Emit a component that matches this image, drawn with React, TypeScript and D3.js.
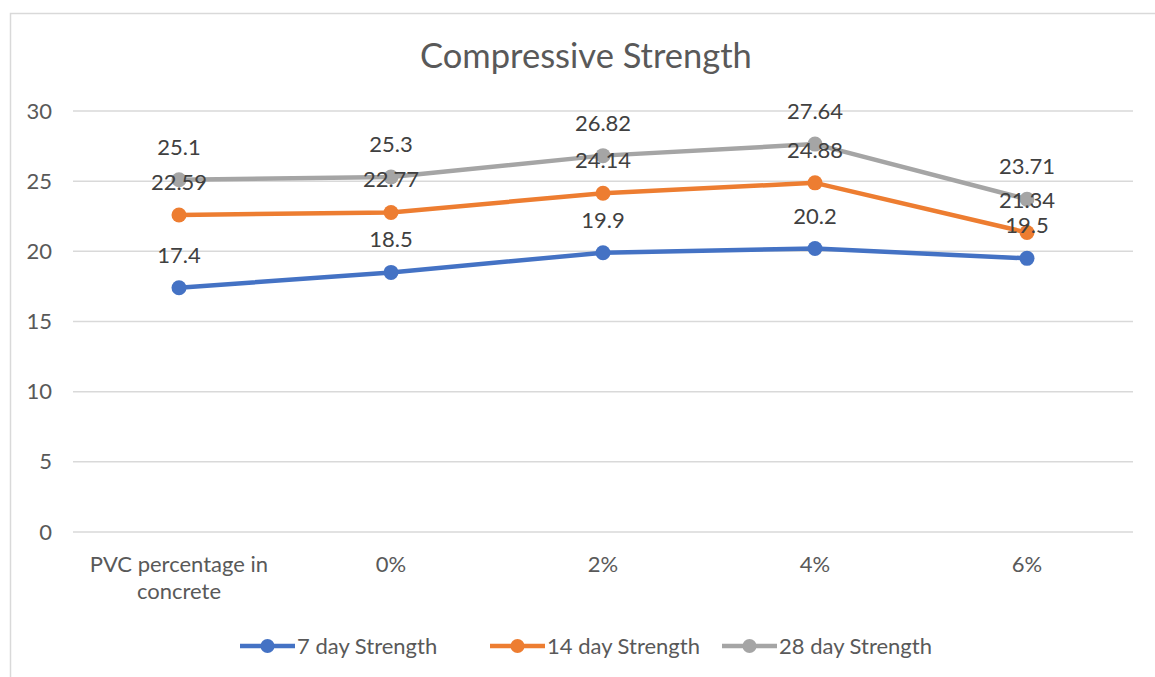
import React, { useEffect, useRef } from 'react';
import * as d3 from 'd3';

// chart data
const categories = ['PVC percentage in concrete', '0%', '2%', '4%', '6%'];
const day7 = [17.4, 18.5, 19.9, 20.2, 19.5];
const day14 = [22.59, 22.77, 24.14, 24.88, 21.34];
const day28 = [25.1, 25.3, 26.82, 27.64, 23.71];
const seriesNames = ['7 day Strength', '14 day Strength', '28 day Strength'];
const yTicks = [0, 5, 10, 15, 20, 25, 30];

const App = () => {
    const ref = useRef<SVGSVGElement>(null);

    useEffect(() => {
        const width = 1155;
        const height = 677;
        const font = 'Lato, "Open Sans", sans-serif';
        const svg = d3.select(ref.current)
            .attr('width', width)
            .attr('height', height);
        svg.selectAll('*').remove();

        // chart frame (left + top edges visible)
        svg.append('path')
            .attr('d', 'M10.5,677 L10.5,13.5 L1155,13.5')
            .attr('fill', 'none')
            .attr('stroke', '#d9d9d9')
            .attr('stroke-width', 1.5);

        svg.append('text')
            .text('Compressive Strength')
            .attr('x', 586)
            .attr('y', 68)
            .attr('text-anchor', 'middle')
            .attr('font-family', font)
            .attr('font-size', 34.5)
            .attr('fill', '#595959');

        const xScale = d3.scaleBand()
            .domain(categories)
            .range([73, 1133]);
        const yScale = d3.scaleLinear()
            .domain([0, 30])
            .range([532, 111]);
        const cx = (c: string) => xScale(c)! + xScale.bandwidth() / 2;

        // gridlines
        svg.append('g')
            .selectAll('line')
            .data(yTicks)
            .enter()
            .append('line')
            .attr('x1', 73)
            .attr('x2', 1133)
            .attr('y1', d => yScale(d))
            .attr('y2', d => yScale(d))
            .attr('stroke', '#d9d9d9')
            .attr('stroke-width', 1.5);

        svg.append('g')
            .selectAll('text')
            .data(yTicks)
            .enter()
            .append('text')
            .text(d => d)
            .attr('x', 52)
            .attr('y', d => yScale(d) + 7.5)
            .attr('text-anchor', 'end')
            .attr('font-family', font)
            .attr('font-size', 22)
            .attr('fill', '#595959');

        // category labels, wrapped like the original
        const catLines: Record<string, string[]> = {
            'PVC percentage in concrete': ['PVC percentage in', 'concrete'],
        };
        const catG = svg.append('g');
        categories.forEach(c => {
            const lines = catLines[c] || [c];
            const t = catG.append('text')
                .attr('text-anchor', 'middle')
                .attr('font-family', font)
                .attr('font-size', 22)
                .attr('fill', '#595959');
            lines.forEach((l, i) => {
                t.append('tspan')
                    .text(l)
                    .attr('x', cx(c))
                    .attr('y', 572 + i * 27);
            });
        });

        const allSeries = [day7, day14, day28];
        const colors = ['#4472c4', '#ed7d31', '#a5a5a5'];
        const line = d3.line<number>()
            .x((d, i) => cx(categories[i]))
            .y(d => yScale(d));

        allSeries.forEach((s, k) => {
            const g = svg.append('g');
            g.append('path')
                .datum(s)
                .attr('d', line)
                .attr('fill', 'none')
                .attr('stroke', colors[k])
                .attr('stroke-width', 4.5)
                .attr('stroke-linejoin', 'round');
            g.selectAll('circle')
                .data(s)
                .enter()
                .append('circle')
                .attr('cx', (d, i) => cx(categories[i]))
                .attr('cy', d => yScale(d))
                .attr('r', 7.5)
                .attr('fill', colors[k]);
        });

        // data labels drawn on top
        allSeries.forEach(s => {
            svg.append('g')
                .selectAll('text')
                .data(s)
                .enter()
                .append('text')
                .text(d => d)
                .attr('x', (d, i) => cx(categories[i]))
                .attr('y', d => yScale(d) - 25)
                .attr('text-anchor', 'middle')
                .attr('font-family', font)
                .attr('font-size', 22)
                .attr('fill', '#404040');
        });

        // legend
        const legendX = [240, 490, 722];
        seriesNames.forEach((name, k) => {
            const g = svg.append('g').attr('transform', `translate(${legendX[k]},646)`);
            g.append('line')
                .attr('x1', 0).attr('x2', 55)
                .attr('stroke', colors[k])
                .attr('stroke-width', 4.5);
            g.append('circle')
                .attr('cx', 27.5)
                .attr('r', 7)
                .attr('fill', colors[k]);
            g.append('text')
                .text(name)
                .attr('x', 57)
                .attr('y', 8)
                .attr('font-family', font)
                .attr('font-size', 22)
                .attr('fill', '#595959');
        });
    }, []);

    return <svg ref={ref} style={{ position: 'absolute', left: 0, top: 0, background: '#fff' }} />;
};

export default App;
